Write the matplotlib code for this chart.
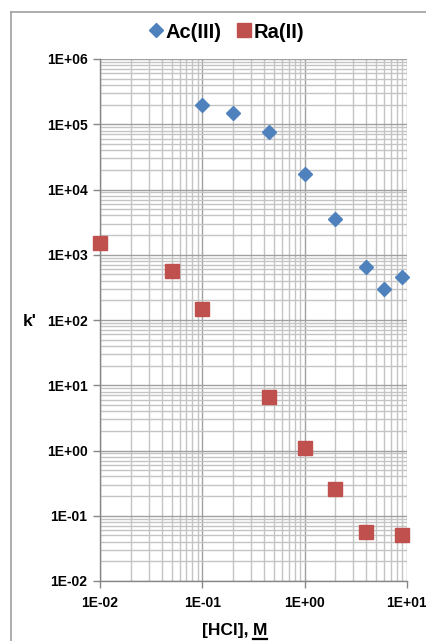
import matplotlib
matplotlib.use("Agg")
import matplotlib.pyplot as plt
from matplotlib.ticker import LogLocator, FixedLocator, NullFormatter
from matplotlib.lines import Line2D
import numpy as np

plt.rcParams['font.family'] = ['Liberation Sans', 'DejaVu Sans']

# Distribution coefficients vs HCl molarity
ac_hcl = [0.1, 0.2, 0.45, 1.0, 2.0, 4.0, 6.0, 9.0]
ac_k = [2.0e5, 1.5e5, 7.6e4, 1.7e4, 3.5e3, 650, 300, 450]

ra_hcl = [0.01, 0.05, 0.1, 0.45, 1.0, 2.0, 4.0, 9.0]
ra_k = [1500, 560, 150, 6.5, 1.1, 0.26, 0.056, 0.051]

x_ticks = [1e-2, 1e-1, 1e0, 1e1]
x_labels = ["1E-02", "1E-01", "1E+00", "1E+01"]
y_ticks = [1e-2, 1e-1, 1e0, 1e1, 1e2, 1e3, 1e4, 1e5, 1e6]
y_labels = ["1E-02", "1E-01", "1E+00", "1E+01", "1E+02", "1E+03",
            "1E+04", "1E+05", "1E+06"]

W, H = 427, 641
fig = plt.figure(figsize=(W / 100, H / 100), dpi=100)
ax = fig.add_axes([100 / W, 1 - 581 / H, 307 / W, 522 / H])

ax.set_xscale('log')
ax.set_yscale('log')
ax.set_xlim(1e-2, 1e1)
ax.set_ylim(1e-2, 1e6)

blue = '#4F81BD'
red = '#C0504D'
ax.plot(ac_hcl, ac_k, linestyle='none', marker='D', markersize=7.0,
        color=blue, markeredgecolor=blue, label='Ac(III)', zorder=5,
        clip_on=False)
ax.plot(ra_hcl, ra_k, linestyle='none', marker='s', markersize=10.2,
        color=red, markeredgecolor=red, label='Ra(II)', zorder=5,
        clip_on=False)

ax.xaxis.set_major_locator(FixedLocator(x_ticks))
ax.set_xticklabels(x_labels)
ax.yaxis.set_major_locator(FixedLocator(y_ticks))
ax.set_yticklabels(y_labels)
ax.xaxis.set_minor_locator(LogLocator(base=10, subs=np.arange(2, 10), numticks=50))
ax.yaxis.set_minor_locator(LogLocator(base=10, subs=np.arange(2, 10), numticks=50))
ax.xaxis.set_minor_formatter(NullFormatter())
ax.yaxis.set_minor_formatter(NullFormatter())

ax.grid(which='major', color='#A0A0A0', linewidth=1.0)
ax.grid(which='minor', color='#C4C4C4', linewidth=1.0)
ax.set_axisbelow(True)

for s in ['top', 'right']:
    ax.spines[s].set_visible(False)
for s in ['left', 'bottom']:
    ax.spines[s].set_color('#868686')
    ax.spines[s].set_linewidth(1.0)

ax.tick_params(which='major', direction='out', length=5, width=1,
               color='#868686', labelsize=10, pad=4)
ax.tick_params(which='minor', length=0)
for lab in ax.get_xticklabels() + ax.get_yticklabels():
    lab.set_fontweight('bold')
ax.tick_params(axis='x', pad=6)

# Axis titles
fig.text(30 / W, 1 - 321 / H, "k'", fontsize=12.5, fontweight='bold',
         ha='center', va='center')
t1 = fig.text(253 / W, 1 - 635 / H, "[HCl], ", fontsize=12.5,
              fontweight='bold', ha='right', va='baseline')
t2 = fig.text(253 / W, 1 - 635 / H, "M", fontsize=12.5,
              fontweight='bold', ha='left', va='baseline')

# Legend
leg = fig.legend(loc='center', bbox_to_anchor=(226 / W, 1 - 32 / H),
                 ncol=2, frameon=False, prop={'size': 14.5, 'weight': 'bold'},
                 handlelength=0.8, handletextpad=0.1, columnspacing=0.7,
                 markerscale=1.0)

# Chart frame
fig.add_artist(Line2D([11 / W, 11 / W], [0, 1 - 12 / H], color='#A0A0A0',
                      linewidth=1.2, transform=fig.transFigure))
fig.add_artist(Line2D([11 / W, 1], [1 - 12 / H, 1 - 12 / H], color='#A0A0A0',
                      linewidth=1.2, transform=fig.transFigure))

# Underline the unit
fig.canvas.draw()
bb = t2.get_window_extent()
y_ul = (bb.y0 - 1.0) / H
fig.add_artist(Line2D([bb.x0 / W, bb.x1 / W], [y_ul, y_ul], color='black',
                      linewidth=1.6, transform=fig.transFigure))

fig.savefig('out.png', dpi=100, facecolor='white')
